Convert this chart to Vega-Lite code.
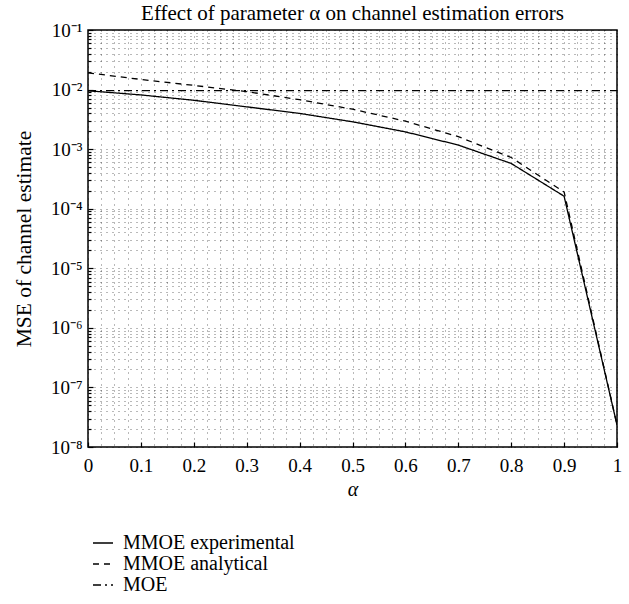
{
  "$schema": "https://vega.github.io/schema/vega-lite/v6.json",
  "width": 529,
  "height": 417,
  "autosize": {"type": "none"},
  "padding": {"left": 88, "top": 30, "right": 12, "bottom": 157},
  "background": "white",
  "config": {
    "font": "Liberation Serif",
    "view": {"stroke": "black", "strokeWidth": 1.5}
  },
  "title": {
    "text": "Effect of parameter α on channel estimation errors",
    "fontSize": 21,
    "fontWeight": "normal",
    "font": "Liberation Serif",
    "color": "black",
    "offset": -3
  },
  "data": {
    "values": [
      {"alpha": 0.0, "series": "MMOE experimental", "mse": 0.00955},
      {"alpha": 0.1, "series": "MMOE experimental", "mse": 0.00813},
      {"alpha": 0.2, "series": "MMOE experimental", "mse": 0.00661},
      {"alpha": 0.3, "series": "MMOE experimental", "mse": 0.00513},
      {"alpha": 0.4, "series": "MMOE experimental", "mse": 0.00398},
      {"alpha": 0.5, "series": "MMOE experimental", "mse": 0.00288},
      {"alpha": 0.6, "series": "MMOE experimental", "mse": 0.00195},
      {"alpha": 0.7, "series": "MMOE experimental", "mse": 0.00117},
      {"alpha": 0.8, "series": "MMOE experimental", "mse": 0.000575},
      {"alpha": 0.9, "series": "MMOE experimental", "mse": 0.000162},
      {"alpha": 1.0, "series": "MMOE experimental", "mse": 2.34e-8},
      {"alpha": 0.0, "series": "MMOE analytical", "mse": 0.0191},
      {"alpha": 0.1, "series": "MMOE analytical", "mse": 0.0148},
      {"alpha": 0.2, "series": "MMOE analytical", "mse": 0.01175},
      {"alpha": 0.3, "series": "MMOE analytical", "mse": 0.00923},
      {"alpha": 0.4, "series": "MMOE analytical", "mse": 0.00676},
      {"alpha": 0.5, "series": "MMOE analytical", "mse": 0.00468},
      {"alpha": 0.6, "series": "MMOE analytical", "mse": 0.00295},
      {"alpha": 0.7, "series": "MMOE analytical", "mse": 0.00162},
      {"alpha": 0.8, "series": "MMOE analytical", "mse": 0.000724},
      {"alpha": 0.9, "series": "MMOE analytical", "mse": 0.000191},
      {"alpha": 1.0, "series": "MMOE analytical", "mse": 2.34e-8},
      {"alpha": 0.0, "series": "MOE", "mse": 0.0096},
      {"alpha": 0.1, "series": "MOE", "mse": 0.0096},
      {"alpha": 0.2, "series": "MOE", "mse": 0.0096},
      {"alpha": 0.3, "series": "MOE", "mse": 0.0096},
      {"alpha": 0.4, "series": "MOE", "mse": 0.0096},
      {"alpha": 0.5, "series": "MOE", "mse": 0.0096},
      {"alpha": 0.6, "series": "MOE", "mse": 0.0096},
      {"alpha": 0.7, "series": "MOE", "mse": 0.0096},
      {"alpha": 0.8, "series": "MOE", "mse": 0.0096},
      {"alpha": 0.9, "series": "MOE", "mse": 0.0096},
      {"alpha": 1.0, "series": "MOE", "mse": 0.0096}
    ]
  },
  "mark": {"type": "line", "color": "black", "strokeWidth": 1.3, "clip": true},
  "encoding": {
    "x": {
      "field": "alpha",
      "type": "quantitative",
      "title": "α",
      "scale": {"domain": [0, 1], "nice": false, "zero": false},
      "axis": {
        "values": [0,0.025,0.05,0.075,0.1,0.125,0.15,0.175,0.2,0.225,0.25,0.275,0.3,0.325,0.35,0.375,0.4,0.425,0.45,0.475,0.5,0.525,0.55,0.575,0.6,0.625,0.65,0.675,0.7,0.725,0.75,0.775,0.8,0.825,0.85,0.875,0.9,0.925,0.95,0.975,1],
        "labelExpr": "abs(datum.value*10 - round(datum.value*10)) < 0.001 ? format(datum.value, '~g') : ''",
        "labelFont": "Liberation Serif",
        "labelFontSize": 19,
        "labelColor": "black",
        "labelPadding": 14,
        "labelFlush": false,
        "labelOverlap": false,
        "tickSize": -5,
        "tickColor": "black",
        "tickWidth": 1.2,
        "tickOpacity": {"condition": {"test": "abs(datum.value*10 - round(datum.value*10)) < 0.001", "value": 1}, "value": 0},
        "domain": false,
        "grid": true,
        "gridColor": "black",
        "gridOpacity": 0.55,
        "gridDash": [1, 5],
        "gridWidth": 1,
        "titleFont": "Liberation Serif",
        "titleFontSize": 20,
        "titleFontWeight": "normal",
        "titleFontStyle": "italic",
        "titleColor": "black",
        "titlePadding": 4
      }
    },
    "y": {
      "field": "mse",
      "type": "quantitative",
      "title": "MSE of channel estimate",
      "scale": {"type": "log", "domain": [1e-8, 0.1], "nice": false},
      "axis": {
        "values": [1e-8,2e-8,3e-8,4e-8,5e-8,6e-8,7e-8,8e-8,9e-8,1e-7,2e-7,3e-7,4e-7,5e-7,6e-7,7e-7,8e-7,9e-7,1e-6,2e-6,3e-6,4e-6,5e-6,6e-6,7e-6,8e-6,9e-6,1e-5,2e-5,3e-5,4e-5,5e-5,6e-5,7e-5,8e-5,9e-5,1e-4,2e-4,3e-4,4e-4,5e-4,6e-4,7e-4,8e-4,9e-4,1e-3,2e-3,3e-3,4e-3,5e-3,6e-3,7e-3,8e-3,9e-3,1e-2,2e-2,3e-2,4e-2,5e-2,6e-2,7e-2,8e-2,9e-2,1e-1],
        "labelExpr": "abs(log(datum.value)/LN10 - round(log(datum.value)/LN10)) < 0.001 ? '10⁻' + ['','¹','²','³','⁴','⁵','⁶','⁷','⁸'][-round(log(datum.value)/LN10)] : ''",
        "labelFont": "Liberation Serif",
        "labelFontSize": 19,
        "labelColor": "black",
        "labelPadding": 11,
        "labelFlush": false,
        "labelOverlap": false,
        "tickSize": {"condition": {"test": "abs(log(datum.value)/LN10 - round(log(datum.value)/LN10)) < 0.001", "value": -5}, "value": -3},
        "tickColor": "black",
        "tickWidth": 1.2,
        "domain": false,
        "grid": true,
        "gridColor": "black",
        "gridOpacity": 0.55,
        "gridDash": [1, 5],
        "gridWidth": 1,
        "titleFont": "Liberation Serif",
        "titleFontSize": 21.5,
        "titleFontWeight": "normal",
        "titleColor": "black",
        "titlePadding": 15
      }
    },
    "strokeDash": {
      "field": "series",
      "type": "nominal",
      "scale": {
        "domain": ["MMOE experimental", "MMOE analytical", "MOE"],
        "range": [[1, 0], [6, 5], [8, 4, 2, 4]]
      },
      "legend": {
        "title": null,
        "orient": "none",
        "legendX": 4,
        "legendY": 502,
        "direction": "vertical",
        "padding": 0,
        "symbolType": "stroke",
        "symbolSize": 400,
        "symbolStrokeColor": "black",
        "symbolStrokeWidth": 1.3,
        "labelFont": "Liberation Serif",
        "labelFontSize": 20,
        "labelColor": "black",
        "labelOffset": 9,
        "labelLimit": 400,
        "rowPadding": 0
      }
    }
  }
}
